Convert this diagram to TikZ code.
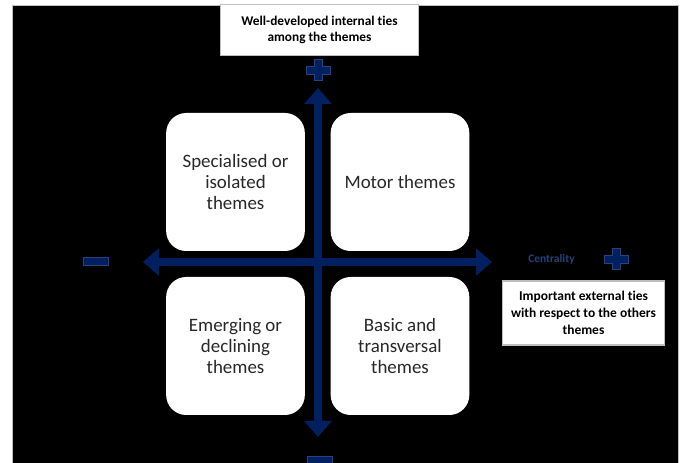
\documentclass[tikz,border=0pt]{standalone}
\usepackage{fontspec}
\setmainfont[Ligatures=NoCommon]{Carlito}
\usetikzlibrary{arrows.meta}

\definecolor{navy}{RGB}{0,32,96}
\definecolor{navyedge}{RGB}{38,66,130}
\definecolor{frame}{RGB}{190,190,190}
\definecolor{ink}{RGB}{40,40,40}

\tikzset{
  quad/.style={fill=white, rounded corners=15pt, minimum width=104pt, minimum height=103.5pt,
    align=center, inner sep=0pt, text=ink, font=\fontsize{14.2}{15.9}\selectfont},
  tagbox/.style={fill=white, draw=frame, line width=0.8pt, align=center, inner sep=0pt,
    font=\bfseries},
  axis/.style={line width=6pt, navy, {Triangle[length=12pt,width=20pt]}-{Triangle[length=12pt,width=20pt]}},
  sign/.style={fill=navy, draw=navyedge, line width=0.6pt},
  plussign/.pic={
    \draw[sign] (-4,-10.5) -- (4,-10.5) -- (4,-4) -- (12,-4) -- (12,4) -- (4,4) -- (4,10.5)
      -- (-4,10.5) -- (-4,4) -- (-12,4) -- (-12,-4) -- (-4,-4) -- cycle;
  }
}

\begin{document}
\begin{tikzpicture}[x=0.75pt,y=-0.75pt]
\useasboundingbox (0,0) rectangle (683,463);
\fill[white] (0,0) rectangle (683,463);
\draw[fill=black, draw=frame, line width=0.6pt] (12.5,5) rectangle (678,470);

\node (specialised) [quad] at (235.5,182) {Specialised or\\isolated\\themes};
\node (motor)       [quad] at (400,182)   {Motor themes};
\node (emerging)    [quad] at (235.5,346) {Emerging or\\declining\\themes};
\node (basic)       [quad] at (400,346)   {Basic and\\transversal\\themes};

\coordinate (north) at (318,88);
\coordinate (south) at (318,437);
\coordinate (west)  at (143,262);
\coordinate (east)  at (492,262);
\draw[axis] (west) -- (east);
\draw[axis] (south) -- (north);

\node (internal) [tagbox, minimum width=149pt, minimum height=38pt,
  font=\bfseries\fontsize{10}{11.5}\selectfont] at (319.5,30)
  {Well-developed internal ties\\among the themes};
\node (external) [tagbox, minimum width=122pt, minimum height=48pt,
  font=\bfseries\fontsize{10.1}{12.75}\selectfont] at (583.5,313)
  {Important external ties\\with respect to the others\\themes};
\node (centrality) [text=navy!85!white, font=\bfseries\fontsize{8.6}{10}\selectfont] at (551.5,259) {Centrality};

\pic at (318,70) {plussign};
\pic at (616,259) {plussign};
\draw[sign] (83,257) rectangle (108,265);
\draw[sign] (307,456) rectangle (332,468);
\end{tikzpicture}
\end{document}
